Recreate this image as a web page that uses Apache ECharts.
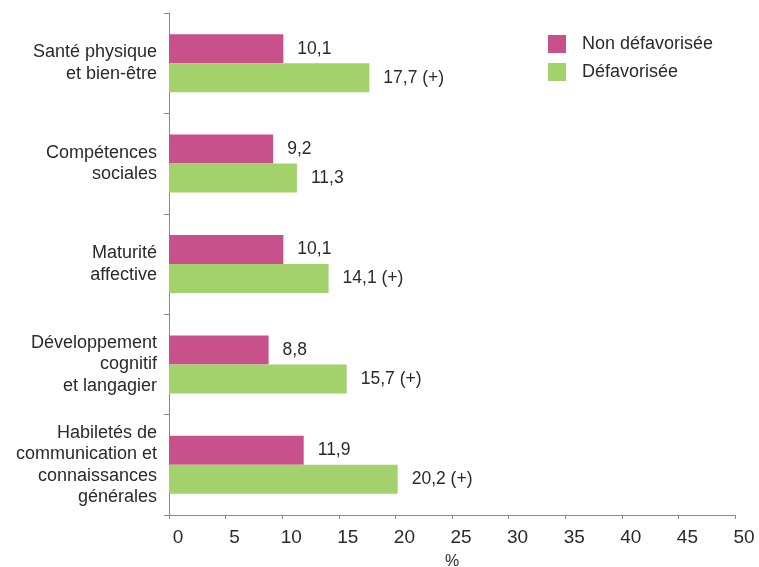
<!DOCTYPE html>
<html><head><meta charset="utf-8">
<script src="https://cdn.jsdelivr.net/npm/echarts@6/dist/echarts.min.js"></script>
<style>html,body{margin:0;padding:0;background:#fff}#c{width:759px;height:567px}</style>
</head><body><div id="c"></div>
<script>
const categories = [
  "Santé physique\net bien-être",
  "Compétences\nsociales",
  "Maturité\naffective",
  "Développement\ncognitif\net langagier",
  "Habiletés de\ncommunication et\nconnaissances\ngénérales"
];
const seriesNames = ["Non défavorisée", "Défavorisée"];
const nonDefavorisee = [10.1, 9.2, 10.1, 8.8, 11.9];
const defavorisee = [17.7, 11.3, 14.1, 15.7, 20.2];
const significant = [true, false, true, true, true];
const xTicks = [0, 5, 10, 15, 20, 25, 30, 35, 40, 45, 50];

const fmt = v => v.toFixed(1).replace('.', ',');
const font = "'Liberation Sans', Arial, sans-serif";
const textColor = '#2a2a2a';

const chart = echarts.init(document.getElementById('c'));
chart.setOption({
  animation: false,
  textStyle: { fontFamily: font },
  grid: { left: 169, right: 24, top: 13, bottom: 52, containLabel: false, outerBoundsMode: 'none' },
  legend: {
    orient: 'vertical', left: 543, top: 30,
    itemWidth: 18, itemHeight: 18, itemGap: 10,
    icon: 'rect',
    textStyle: { fontSize: 18, color: textColor, fontFamily: font, padding: [0,0,0,11] },
    data: seriesNames
  },
  xAxis: {
    type: 'value', min: xTicks[0], max: xTicks[xTicks.length-1], interval: 5,
    name: '%', nameLocation: 'middle', nameGap: 39,
    nameTextStyle: { fontSize: 16, color: textColor, fontFamily: font },
    axisLine: { show: true, lineStyle: { color: '#8a8a8a', width: 1 } },
    axisTick: { show: true, length: 4, lineStyle: { color: '#8a8a8a' } },
    splitLine: { show: false },
    axisLabel: { fontSize: 19, color: textColor, margin: 13, padding: [0,0,0,18], fontFamily: font }
  },
  yAxis: {
    type: 'category', data: categories, inverse: true,
    axisLine: { show: true, lineStyle: { color: '#8a8a8a', width: 1 } },
    axisTick: { show: true, length: 5, lineStyle: { color: '#8a8a8a' } },
    axisLabel: { fontSize: 18, color: textColor, margin: 12, lineHeight: 21.5, align: 'right', fontFamily: font }
  },
  series: [
    {
      name: seriesNames[0], type: 'bar', data: nonDefavorisee,
      barWidth: 29, barGap: '0%',
      itemStyle: { color: '#c9518b' },
      label: { show: true, position: 'right', distance: 14, fontSize: 17.5, color: textColor, fontFamily: font,
        formatter: p => fmt(p.value) }
    },
    {
      name: seriesNames[1], type: 'bar', data: defavorisee,
      barWidth: 29, barGap: '0%',
      itemStyle: { color: '#a3d16c' },
      label: { show: true, position: 'right', distance: 14, fontSize: 17.5, color: textColor, fontFamily: font,
        formatter: p => fmt(p.value) + (significant[p.dataIndex] ? ' (+)' : '') }
    }
  ]
});
</script></body></html>
